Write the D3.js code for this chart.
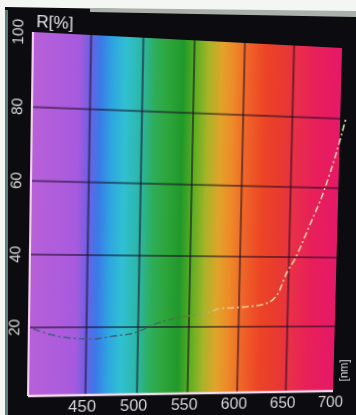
<!DOCTYPE html>
<html>
<head>
<meta charset="utf-8">
<script src="https://cdn.jsdelivr.net/npm/d3@7"></script>
<style>
  html, body { margin: 0; padding: 0; background: #f4f6f4; overflow: hidden; }
  #wrap { position: relative; width: 356px; height: 415px; }
  #wrap svg { position: absolute; left: 0; top: 0; }
  text { font-family: "Liberation Sans", Arial, sans-serif; }
</style>
</head>
<body>
<div id="wrap"></div>
<script>
// reflectance curve
const wavelengths = [400, 427, 457, 477, 495, 521, 546, 566, 581, 606, 627, 640, 648, 657, 671, 685, 696, 706];
const reflectance = [19.5, 17.2, 16.6, 17.4, 18.1, 21.1, 22.8, 23.6, 25.0, 25.5, 26.4, 29.3, 35, 39.5, 49, 59, 69, 80];

const xTicks = [450, 500, 550, 600, 650, 700];
const yTicks = [20, 40, 60, 80, 100];
const xTitle = "[nm]";
const yTitle = "R[%]";

// background spectrum (nm -> colour)
const spectrumNm = [396, 440, 450, 460, 472, 484, 500, 512, 525, 540, 552, 565, 578, 590, 605, 622, 640, 656, 672, 700];
const spectrumColors = ["#b860d8", "#a65ade", "#6e60e2", "#3a7ae8", "#2fa6e0", "#30c0d2", "#2cb6a6", "#2eae5c",
  "#2ea63c", "#20982a", "#5aae22", "#a8b428", "#e0a42a", "#ee8a28", "#ef6228", "#ec4426", "#e83a30", "#e82e4a",
  "#e82058", "#e61868"];

const width = 356;
const height = 415;
const margin = { top: 32, right: 18, bottom: 21, left: 33 };
const W = width - margin.left - margin.right;
const H = height - margin.top - margin.bottom;

const wrap = d3.select("#wrap");

// monitor frame behind the (tilted) chart
const bg = wrap.append("svg").attr("width", width).attr("height", height);
bg.append("polygon")
  .attr("points", "5,7 356,13 356,415 5,415")
  .attr("fill", "#0b0b10");
bg.append("polygon")
  .attr("points", "90,8 356,11 356,17 90,12")
  .attr("fill", "#a9b1aa");
bg.append("rect").attr("x", 5).attr("y", 10).attr("width", 3).attr("height", 405).attr("fill", "#5d7f7c");

const svg = wrap.append("svg").attr("width", width).attr("height", height);

const x = d3.scaleLinear().domain([396, 700]).range([0, W]);
const y = d3.scaleLinear().domain([1, 100]).range([H, 0]);

const defs = svg.append("defs");
const grad = defs.append("linearGradient")
  .attr("id", "spectrum")
  .attr("gradientUnits", "userSpaceOnUse")
  .attr("x1", x(396)).attr("x2", x(700)).attr("y1", 0).attr("y2", 0);
grad.selectAll("stop")
  .data(spectrumNm)
  .enter()
  .append("stop")
  .attr("offset", (d) => (d - 396) / (700 - 396))
  .attr("stop-color", (_, i) => spectrumColors[i]);

// the dashed trace changes tone over the colours
const lineGrad = defs.append("linearGradient")
  .attr("id", "trace")
  .attr("gradientUnits", "userSpaceOnUse")
  .attr("x1", x(396)).attr("x2", x(706)).attr("y1", 0).attr("y2", 0);
[[396, "#4a5a86"], [480, "#3a5f86"], [510, "#36705a"], [545, "#4c7a2c"], [575, "#e0c070"], [600, "#f2d29a"], [706, "#eee4a8"]]
  .forEach(([nm, c]) => {
    lineGrad.append("stop").attr("offset", (nm - 396) / (706 - 396)).attr("stop-color", c);
  });

const g = svg.append("g").attr("transform", `translate(${margin.left},${margin.top})`);

g.append("rect")
  .attr("width", W)
  .attr("height", H)
  .attr("fill", "url(#spectrum)");

// grid
const gridX = g.append("g")
  .attr("transform", `translate(0,${H})`)
  .call(d3.axisBottom(x).tickValues(xTicks.filter((d) => d < 700)).tickSize(-H).tickFormat(""));
const gridY = g.append("g")
  .call(d3.axisLeft(y).tickValues(yTicks.filter((d) => d < 100)).tickSize(-W).tickFormat(""));
[gridX, gridY].forEach((a) => {
  a.select(".domain").remove();
  a.selectAll("line").attr("stroke", "#1a0a24").attr("stroke-opacity", 0.55).attr("stroke-width", 2);
});

// left and bottom border
g.append("line").attr("x1", 0).attr("x2", 0).attr("y1", 0).attr("y2", H)
  .attr("stroke", "#f2d0ec").attr("stroke-width", 2);
g.append("line").attr("x1", 0).attr("x2", W).attr("y1", H).attr("y2", H)
  .attr("stroke", "#f4dcee").attr("stroke-width", 2.5);

// curve
const line = d3.line()
  .x((d, i) => x(wavelengths[i]))
  .y((d) => y(d))
  .curve(d3.curveMonotoneX);
g.append("path")
  .datum(reflectance)
  .attr("fill", "none")
  .attr("stroke", "url(#trace)")
  .attr("stroke-width", 1.6)
  .attr("stroke-dasharray", "7,3,2,3")
  .attr("d", line);

// axes labels
const xAxis = g.append("g")
  .attr("transform", `translate(0,${H})`)
  .call(d3.axisBottom(x).tickValues(xTicks).tickSize(0).tickPadding(6));
xAxis.select(".domain").remove();
xAxis.selectAll("text")
  .attr("fill", "#d6d6d6")
  .attr("font-size", 16)
  .attr("dx", -3);

const yAxis = g.append("g")
  .call(d3.axisLeft(y).tickValues(yTicks).tickSize(0));
yAxis.select(".domain").remove();
yAxis.selectAll("text")
  .attr("fill", "#d6d6d6")
  .attr("font-size", 15)
  .attr("text-anchor", "middle")
  .attr("x", 0)
  .attr("y", 0)
  .attr("dy", "0.35em")
  .attr("transform", "translate(-14,0) rotate(-90)");

g.append("text")
  .attr("x", 3)
  .attr("y", -5)
  .attr("fill", "#e4e4e4")
  .attr("font-size", 16)
  .text(yTitle);

g.append("text")
  .attr("transform", `translate(${W + 11},${H - 22}) rotate(-90)`)
  .attr("text-anchor", "middle")
  .attr("dy", "0.35em")
  .attr("fill", "#d6d6d6")
  .attr("font-size", 12)
  .text(xTitle);

// photo perspective: map the flat plot corners onto the tilted screen
function homography(src, dst) {
  const A = [];
  for (let i = 0; i < 4; i++) {
    const [sx, sy] = src[i];
    const [u, v] = dst[i];
    A.push([sx, sy, 1, 0, 0, 0, -u * sx, -u * sy, u]);
    A.push([0, 0, 0, sx, sy, 1, -v * sx, -v * sy, v]);
  }
  const n = 8;
  for (let c = 0; c < n; c++) {
    let p = c;
    for (let r = c + 1; r < n; r++) if (Math.abs(A[r][c]) > Math.abs(A[p][c])) p = r;
    [A[c], A[p]] = [A[p], A[c]];
    for (let r = 0; r < n; r++) {
      if (r === c) continue;
      const f = A[r][c] / A[c][c];
      for (let k = c; k <= n; k++) A[r][k] -= f * A[c][k];
    }
  }
  return A.map((row, i) => row[n] / row[i]);
}

const L = margin.left, T = margin.top, R = margin.left + W, B = margin.top + H;
const h = homography(
  [[L, T], [R, T], [R, B], [L, B]],
  [[33, 32], [342, 48], [333, 391], [28, 396]]
);
svg.style("transform-origin", "0 0")
  .style("transform", `matrix3d(${h[0]},${h[3]},0,${h[6]},${h[1]},${h[4]},0,${h[7]},0,0,1,0,${h[2]},${h[5]},0,1)`);
</script>
</body>
</html>
